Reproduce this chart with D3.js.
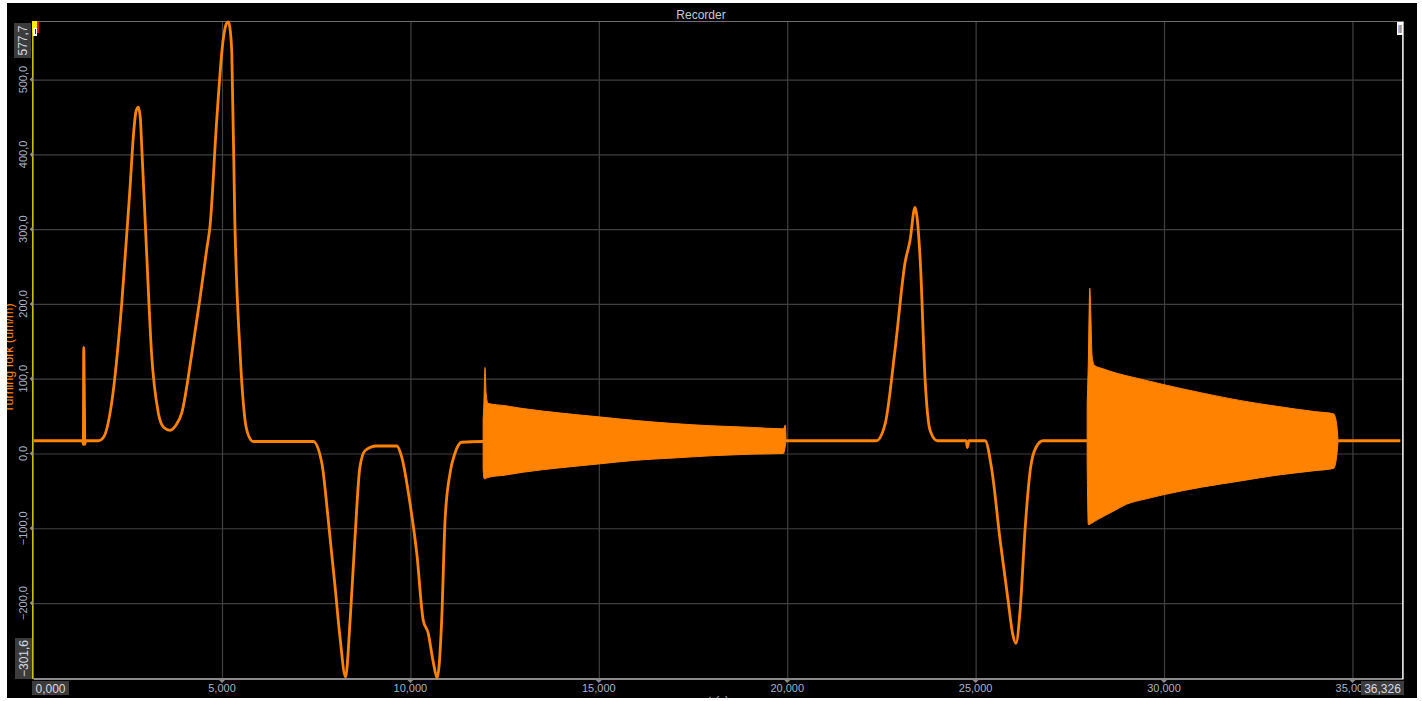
<!DOCTYPE html>
<html>
<head>
<meta charset="utf-8">
<script src="https://cdn.jsdelivr.net/npm/d3@7"></script>
<style>
  html, body { margin: 0; padding: 0; background: #ffffff; }
  svg { display: block; font-family: "Liberation Sans", Arial, sans-serif; }
</style>
</head>
<body>
<svg id="chart" width="1422" height="701"></svg>
<script>
// Tuning-fork strain recording: time (s) against strain (um/m)
const traceTime = [
  0, 1.30, 1.32, 1.33, 1.35, 1.36, 1.38, 1.72, 1.86, 2.07, 2.34, 2.56, 2.66, 2.72, 2.78,
  2.83, 2.87, 3.00, 3.13, 3.31, 3.45, 3.62, 3.78, 3.93, 4.20, 4.42, 4.60, 4.68, 4.86,
  5.03, 5.12, 5.17, 5.22, 5.26, 5.34, 5.48, 5.61, 5.72, 5.83, 7.42, 7.65, 7.82, 8.00,
  8.13, 8.28, 8.40, 8.53, 8.66, 8.80, 9.10, 9.64, 9.77, 9.99, 10.17, 10.34, 10.47,
  10.61, 10.71, 10.83, 10.92, 11.05, 11.18, 11.36, 11.93, 19.97, 22.36, 22.60, 22.86,
  23.13, 23.26, 23.39, 23.53, 23.66, 23.79, 23.98, 24.75, 24.78, 24.82, 25.25, 25.43,
  25.65, 25.86, 25.99, 26.07, 26.18, 26.31, 26.45, 26.60, 26.79, 34.62, 36.27
];
const traceValue = [
  17, 17, 12, 142, 60, 12, 17, 17, 22, 67, 201, 356, 432, 458, 463,
  450, 410, 268, 134, 54, 35, 31, 38, 54, 134, 209, 275, 303, 446,
  553, 575, 577, 565, 535, 312, 134, 45, 22, 16, 16, -13, -89, -178,
  -245, -299, -223, -112, -18, 4, 10, 10, -5, -67, -134, -223, -240,
  -280, -300, -223, -89, -27, 0, 15, 16, 17, 17, 40, 138,
  256, 285, 329, 258, 98, 31, 17, 17, 8, 17, 17, -22,
  -116, -196, -243, -254, -210, -103, -22, 8, 17, 17, 17
];

// Ringing bursts, given by their upper and lower envelopes
const burst1Time  = [11.93, 11.95, 11.98, 12.01, 12.06, 12.5, 13, 14, 15, 16, 17, 18, 19, 19.90, 19.95, 19.97];
const burst1Upper = [45, 67, 115, 80, 67, 64, 60, 54, 49, 44, 40, 37, 35, 33, 38, 17];
const burst1Lower = [-20, -33, -34, -33, -32, -29, -25, -19, -14, -9, -6, -3, -1, 0, 10, 17];

const burst2Time  = [27.96, 27.99, 28.03, 28.05, 28.09, 28.15, 28.4, 28.7, 29.0, 29.5, 30.0, 31.0, 32.0, 33.0, 34.0, 34.50, 34.58, 34.62];
const burst2Upper = [67, 120, 221, 198, 131, 118, 113, 108, 104, 98, 92, 81, 71, 63, 56, 53, 40, 17];
const burst2Lower = [-13, -95, -95, -94, -93, -91, -84, -76, -68, -61, -55, -45, -37, -29, -23, -20, -5, 17];

const xTicks = [5, 10, 15, 20, 25, 30, 35];
const yTicks = [-200, -100, 0, 100, 200, 300, 400, 500];
const xDomain = [0, 36.326];
const yDomain = [-301.6, 577.7];

const chartTitle = "Recorder";
const xTitle = "t (s)";
const yTitle = "Turning fork (um/m)";

const orange = "#ff8200";
const pL = 33.6, pR = 1402.4, pT = 21.5, pB = 679;

const locale = d3.formatLocale({decimal: ",", thousands: ".", grouping: [3], currency: ["", ""]});
const fmtX = locale.format(".3f");
const fmtY = locale.format(".1f");

const svg = d3.select("#chart");

// dark panel
svg.append("rect").attr("x", 7).attr("y", 3).attr("width", 1410).attr("height", 695).attr("fill", "#000");

const x = d3.scaleLinear().domain(xDomain).range([pL, pR]);
const y = d3.scaleLinear().domain(yDomain).range([pB, pT]);

// grid
const gx = svg.append("g").attr("transform", `translate(0,${pB})`)
  .call(d3.axisBottom(x).tickValues(xTicks).tickSize(-(pB - pT)).tickFormat(""));
gx.select(".domain").remove();
gx.selectAll("line").attr("stroke", "#404040").attr("stroke-width", 1.2);

const gy = svg.append("g").attr("transform", `translate(${pL},0)`)
  .call(d3.axisLeft(y).tickValues(yTicks).tickSize(-(pR - pL)).tickFormat(""));
gy.select(".domain").remove();
gy.selectAll("line").attr("stroke", "#404040").attr("stroke-width", 1.2);

// frame
svg.append("line").attr("x1", pL).attr("x2", pR).attr("y1", pT).attr("y2", pT)
  .attr("stroke", "#6e6e6e").attr("stroke-width", 1.2);
svg.append("line").attr("x1", pL).attr("x2", pR + 1).attr("y1", pB).attr("y2", pB)
  .attr("stroke", "#8a8a8a").attr("stroke-width", 2);
svg.append("line").attr("x1", pR + 0.5).attr("x2", pR + 0.5).attr("y1", pT).attr("y2", pB)
  .attr("stroke", "#ffffff").attr("stroke-width", 1.5);

// data
const clip = svg.append("defs").append("clipPath").attr("id", "plotClip");
clip.append("rect").attr("x", pL).attr("y", pT - 2).attr("width", pR - pL).attr("height", pB - pT + 4);
const plot = svg.append("g").attr("clip-path", "url(#plotClip)");

const trace = traceTime.map((t, i) => ({t, v: traceValue[i]}));
plot.append("path").datum(trace)
  .attr("fill", "none").attr("stroke", orange).attr("stroke-width", 2.8)
  .attr("stroke-linejoin", "round")
  .attr("d", d3.line().curve(d3.curveMonotoneX).x(d => x(d.t)).y(d => y(d.v)));

const bursts = [
  burst1Time.map((t, i) => ({t, hi: burst1Upper[i], lo: burst1Lower[i]})),
  burst2Time.map((t, i) => ({t, hi: burst2Upper[i], lo: burst2Lower[i]}))
];
const band = d3.area().curve(d3.curveMonotoneX).x(d => x(d.t)).y0(d => y(d.lo)).y1(d => y(d.hi));
plot.selectAll("path.burst").data(bursts).join("path")
  .attr("class", "burst")
  .attr("fill", orange).attr("stroke", orange).attr("stroke-width", 1)
  .attr("d", band);

// left axis line
svg.append("line").attr("x1", pL - 0.8).attr("x2", pL - 0.8).attr("y1", pT).attr("y2", pB)
  .attr("stroke", "#c8c400").attr("stroke-width", 1.6);

// tick markers
svg.append("g").selectAll("path").data(xTicks).join("path")
  .attr("d", d => `M${x(d) - 3},${pB + 1}L${x(d) + 3},${pB + 1}L${x(d)},${pB + 4}Z`)
  .attr("fill", "#8a8a8a");
svg.append("g").selectAll("path").data(yTicks).join("path")
  .attr("d", d => `M${pL - 1},${y(d) - 3}L${pL - 1},${y(d) + 3}L${pL - 4},${y(d)}Z`)
  .attr("fill", "#8a8a8a");

// tick labels
svg.append("g").selectAll("text").data(xTicks).join("text")
  .attr("x", d => x(d)).attr("y", 692)
  .attr("text-anchor", "middle").attr("font-size", 11).attr("fill", "#a9b3c2")
  .text(d => fmtX(d));
svg.append("g").selectAll("text").data(yTicks).join("text")
  .attr("transform", d => `translate(${pL - 6.5},${y(d)}) rotate(-90)`)
  .attr("text-anchor", "middle").attr("font-size", 11).attr("fill", "#a9b3c2")
  .text(d => fmtY(d));

// range boxes
svg.append("rect").attr("x", 32).attr("y", 681).attr("width", 37).attr("height", 14).attr("fill", "#3c3c3c");
svg.append("text").attr("x", 50.5).attr("y", 692.5).attr("text-anchor", "middle")
  .attr("font-size", 12).attr("fill", "#d6dbe3").text(fmtX(xDomain[0]));
svg.append("rect").attr("x", 1361).attr("y", 681).attr("width", 43).attr("height", 14).attr("fill", "#3c3c3c");
svg.append("text").attr("x", 1382.5).attr("y", 692.5).attr("text-anchor", "middle")
  .attr("font-size", 12).attr("fill", "#d6dbe3").text(fmtX(xDomain[1]));
svg.append("rect").attr("x", 14).attr("y", 23).attr("width", 17).attr("height", 35).attr("fill", "#3c3c3c");
svg.append("text").attr("transform", `translate(27,40.5) rotate(-90)`).attr("text-anchor", "middle")
  .attr("font-size", 12).attr("fill", "#d6dbe3").text(fmtY(yDomain[1]));
svg.append("rect").attr("x", 15).attr("y", 638).attr("width", 17).attr("height", 41).attr("fill", "#3c3c3c");
svg.append("text").attr("transform", `translate(28,658.5) rotate(-90)`).attr("text-anchor", "middle")
  .attr("font-size", 12).attr("fill", "#d6dbe3").text(fmtY(yDomain[0]));

// cursor markers
svg.append("rect").attr("x", 32).attr("y", 21).attr("width", 5).attr("height", 12).attr("fill", "#ffee00");
svg.append("rect").attr("x", 37).attr("y", 22).attr("width", 2).attr("height", 11).attr("fill", "#e01010");
svg.append("rect").attr("x", 33).attr("y", 28).attr("width", 4).attr("height", 8).attr("fill", "#ffffff");
svg.append("rect").attr("x", 35).attr("y", 29).attr("width", 1).attr("height", 5).attr("fill", "#333");
svg.append("rect").attr("x", 1397).attr("y", 22).attr("width", 6).attr("height", 13).attr("fill", "#ffffff");
svg.append("rect").attr("x", 1398.5).attr("y", 25).attr("width", 1).attr("height", 8).attr("fill", "#5070c0");
svg.append("rect").attr("x", 1399.5).attr("y", 25).attr("width", 1).attr("height", 8).attr("fill", "#d09040");
svg.append("rect").attr("x", 1400.5).attr("y", 25).attr("width", 1).attr("height", 8).attr("fill", "#606060");

// titles
svg.append("text").attr("x", 701).attr("y", 19).attr("text-anchor", "middle")
  .attr("font-size", 12).attr("fill", "#c4cad2").text(chartTitle);
svg.append("text").attr("x", (pL + pR) / 2).attr("y", 705).attr("text-anchor", "middle")
  .attr("font-size", 12).attr("font-style", "italic").attr("fill", "#a9b3c2").text(xTitle);
svg.append("text").attr("transform", `translate(13,358) rotate(-90)`).attr("text-anchor", "middle")
  .attr("font-size", 12.5).attr("fill", orange).text(yTitle);

// page margins
svg.append("rect").attr("x", 0).attr("y", 0).attr("width", 7).attr("height", 701).attr("fill", "#fff");
svg.append("rect").attr("x", 0).attr("y", 698).attr("width", 1422).attr("height", 3).attr("fill", "#fff");
</script>
</body>
</html>
